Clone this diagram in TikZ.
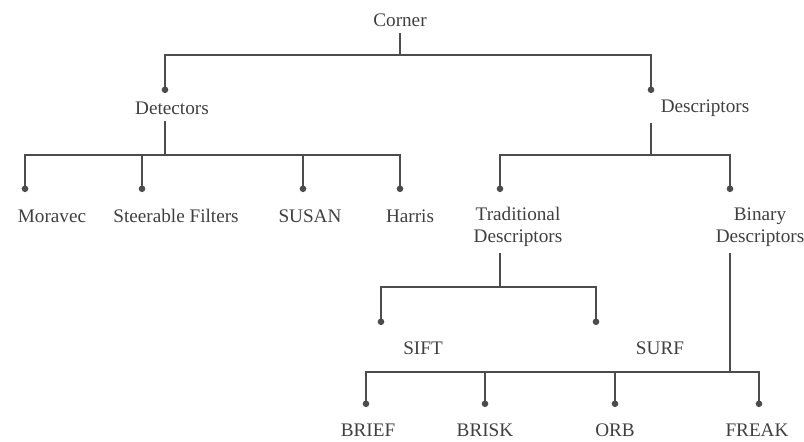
\documentclass[tikz,border=0pt]{standalone}
\usepackage{fontspec}
\setmainfont{Liberation Serif}
\usetikzlibrary{arrows.meta}

\begin{document}
\begin{tikzpicture}[x=0.5pt,y=-0.5pt,
  lbl/.style={font=\fontsize{9.6}{11}\selectfont, text=black!75, inner sep=0pt, align=center},
  link/.style={draw=black!70, line width=1.2pt},
  tip/.style={link, -{Circle[length=3.2pt]}}]
  \useasboundingbox (0,0) rectangle (804,441);

  % labels
  \node[lbl] (corner) at (400,20) {Corner};
  \node[lbl] (det) at (172,108) {Detectors};
  \node[lbl] (desc) at (705,108) {Descriptors};
  \node[lbl] (moravec) at (52,216) {Moravec};
  \node[lbl] (steer) at (176,216) {Steerable Filters};
  \node[lbl] (susan) at (310,216) {SUSAN};
  \node[lbl] (harris) at (410,216) {Harris};
  \node[lbl] (trad) at (518,227) {Traditional\\Descriptors};
  \node[lbl] (bin) at (760,227) {Binary\\Descriptors};
  \node[lbl] (sift) at (423,348) {SIFT};
  \node[lbl] (surf) at (660,348) {SURF};
  \node[lbl] (brief) at (368,430) {BRIEF};
  \node[lbl] (brisk) at (485,430) {BRISK};
  \node[lbl] (orb) at (615,430) {ORB};
  \node[lbl] (freak) at (757,430) {FREAK};

  % junctions and tips
  \coordinate (j0) at (400,55);
  \coordinate (j1) at (165,155);
  \coordinate (j2) at (651,155);
  \coordinate (j3) at (500,287);
  \coordinate (j4) at (730,372);
  \coordinate (t-det) at (165,93);
  \coordinate (t-desc) at (651,93);
  \coordinate (t-mor) at (25,192);
  \coordinate (t-steer) at (142,192);
  \coordinate (t-susan) at (303,192);
  \coordinate (t-harris) at (400,192);
  \coordinate (t-trad) at (500,192);
  \coordinate (t-bin) at (730,192);
  \coordinate (t-sift) at (381,325);
  \coordinate (t-surf) at (596,325);
  \coordinate (t-brief) at (366,407);
  \coordinate (t-brisk) at (485,407);
  \coordinate (t-orb) at (615,407);
  \coordinate (t-freak) at (759,407);

  % Corner
  \draw[link] ([yshift=-3pt]corner.south) -- (j0);
  \draw[tip] (j0) -| (t-det);
  \draw[tip] (j0) -| (t-desc);

  % Detectors
  \draw[link] ([yshift=-3pt]det.south -| j1) -- (j1);
  \draw[tip] (j1) -| (t-mor);
  \draw[tip] (j1) -| (t-steer);
  \draw[tip] (j1) -| (t-susan);
  \draw[tip] (j1) -| (t-harris);

  % Descriptors
  \draw[link] ([yshift=-3pt]desc.south -| j2) -- (j2);
  \draw[tip] (j2) -| (t-trad);
  \draw[tip] (j2) -| (t-bin);

  % Traditional
  \draw[link] ([yshift=-3pt]trad.south -| j3) -- (j3);
  \draw[tip] (j3) -| (t-sift);
  \draw[tip] (j3) -| (t-surf);

  % Binary
  \draw[link] ([yshift=-3pt]bin.south -| j4) -- (j4);
  \draw[tip] (j4) -| (t-brief);
  \draw[tip] (j4) -| (t-brisk);
  \draw[tip] (j4) -| (t-orb);
  \draw[tip] (j4) -| (t-freak);
\end{tikzpicture}
\end{document}
